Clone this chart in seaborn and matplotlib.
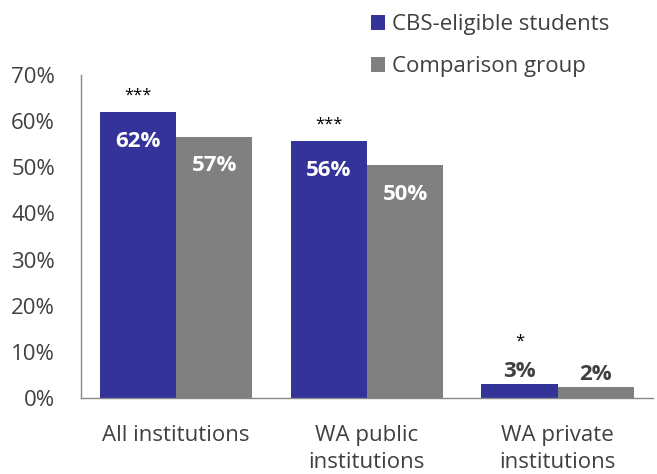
import pandas as pd
import numpy as np
import matplotlib.pyplot as plt
import seaborn as sns
from matplotlib.ticker import PercentFormatter, FixedLocator

CATEGORIES = ["All institutions", "WA public\ninstitutions", "WA private\ninstitutions"]
CBS_VALUES = [0.620, 0.557, 0.030]
COMPARISON_VALUES = [0.566, 0.504, 0.024]
CBS_LABELS = ["62%", "56%", "3%"]
COMPARISON_LABELS = ["57%", "50%", "2%"]
SIGNIFICANCE = ["***", "***", "*"]
GROUPS = ["CBS-eligible students", "Comparison group"]
COLORS = ["#333399", "#808080"]
TEXT_COLOR = "#404040"

sns.set_style("white")
plt.rcParams["font.family"] = ["Open Sans", "DejaVu Sans"]

df = pd.DataFrame({
    "Category": CATEGORIES * 2,
    "Share": CBS_VALUES + COMPARISON_VALUES,
    "Group": [GROUPS[0]] * 3 + [GROUPS[1]] * 3,
})

fig = plt.figure(figsize=(6.57, 4.74), dpi=100)
ax = fig.add_axes([0.123, 0.160, 0.871, 0.682])

sns.barplot(data=df, x="Category", y="Share", hue="Group", hue_order=GROUPS,
            order=CATEGORIES, palette=COLORS, width=0.8, saturation=1,
            linewidth=0, ax=ax)

ax.set_ylim(0, 0.7)
ax.set_xlim(-0.5, 2.5)
ax.yaxis.set_major_formatter(PercentFormatter(1.0, decimals=0))
ax.set_yticks(np.arange(0, 0.71, 0.1))
ax.set_xlabel("")
ax.set_ylabel("")

# category boundary ticks like Excel
ax.xaxis.set_minor_locator(FixedLocator([-0.5, 0.5, 1.5, 2.5]))
ax.tick_params(axis="x", which="major", length=0, pad=19, labelsize=16, labelcolor=TEXT_COLOR)
ax.tick_params(axis="x", which="minor", length=6, width=1, color="#888888", direction="out")
ax.tick_params(axis="y", which="major", length=6.5, width=1, color="#888888", direction="out",
               pad=12, labelsize=16, labelcolor=TEXT_COLOR)
for lab in ax.get_xticklabels():
    lab.set_linespacing(1.42)
for side in ["top", "right"]:
    ax.spines[side].set_visible(False)
for side in ["left", "bottom"]:
    ax.spines[side].set_color("#888888")
    ax.spines[side].set_linewidth(1)

# bar labels and significance stars
for gi, cont in enumerate(ax.containers):
    labels = CBS_LABELS if gi == 0 else COMPARISON_LABELS
    for ci, patch in enumerate(cont.patches):
        h = patch.get_height()
        xc = patch.get_x() + patch.get_width() / 2
        if h > 0.1:
            ax.annotate(labels[ci], (xc, h), xytext=(0, -21), textcoords="offset points",
                        ha="center", va="center", color="white", fontsize=16, fontweight="bold")
        else:
            ax.annotate(labels[ci], (xc, h), xytext=(0, 9), textcoords="offset points",
                        ha="center", va="center", color=TEXT_COLOR, fontsize=16, fontweight="bold")
        if gi == 0:
            offset = 12 if h > 0.1 else 31
            ax.annotate(SIGNIFICANCE[ci], (xc, h), xytext=(0, offset), textcoords="offset points",
                        ha="center", va="center", color="black", fontsize=12)

handles, labels = ax.get_legend_handles_labels()
fig.legend(handles, labels, loc="upper left", bbox_to_anchor=(0.535, 1.012), frameon=False,
           fontsize=16, handlelength=0.63, handleheight=0.63, handletextpad=0.3,
           labelspacing=0.95, labelcolor=TEXT_COLOR)
ax.get_legend().remove()

fig.savefig("out.png", dpi=100)
